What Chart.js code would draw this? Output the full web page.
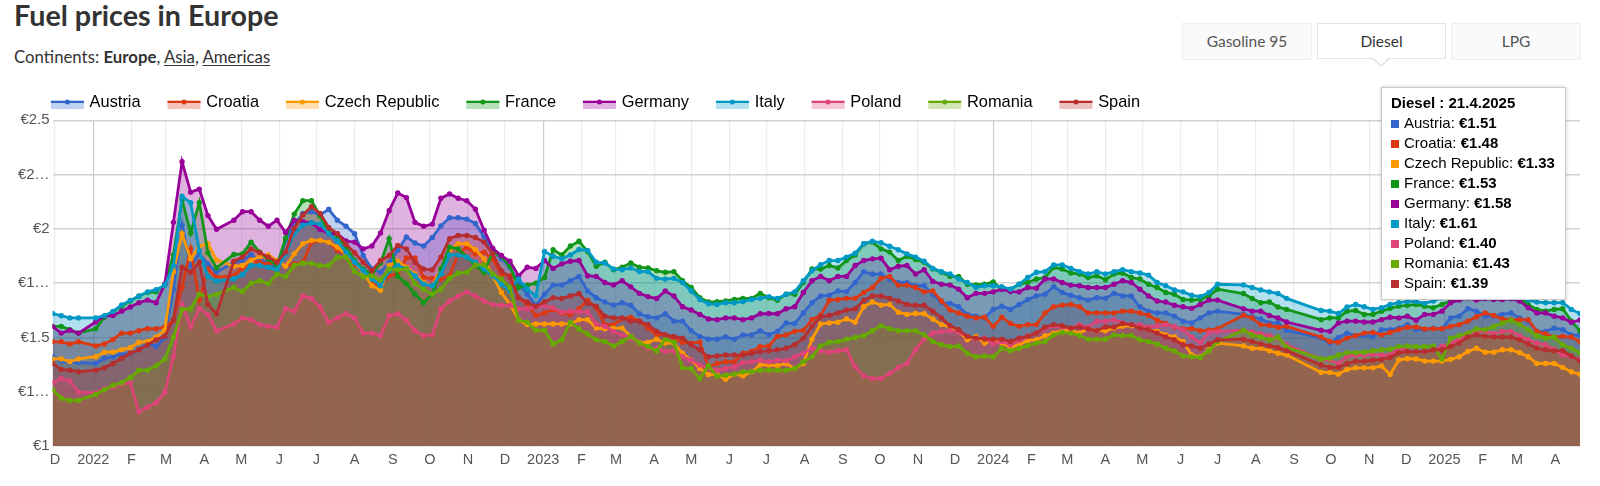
<!DOCTYPE html>
<html><head><meta charset="utf-8">
<script src="https://cdn.jsdelivr.net/npm/chart.js@4"></script>
<style>
html,body{margin:0;padding:0;background:#fff;width:1600px;height:486px;overflow:hidden}
body{position:relative;font-family:"Liberation Sans",Arial,sans-serif;color:#333}
canvas{position:absolute;left:0;top:0}
#title{position:absolute;left:14px;top:-2px;font:700 28.7px Lato;color:#333;white-space:nowrap}
#sub{position:absolute;left:14px;top:46px;font:400 16.8px Lato;color:#333;white-space:nowrap}
#sub u{text-underline-offset:2px}
.tab{position:absolute;top:23px;width:128px;height:35px;background:#fafafa;border:1px solid #eee;text-align:center;font:400 15.5px/35px Lato;color:#555}
.tab.on{background:#fff;border:1.5px solid #e4e4e4;color:#333;top:23px;height:34px;line-height:34px;width:127px}
#tri{position:absolute;left:1371px;top:58px;width:0;height:0;border-left:10px solid transparent;border-right:10px solid transparent;border-top:9px solid #e4e4e4}
#tri:after{content:"";position:absolute;left:-8px;top:-10px;border-left:8px solid transparent;border-right:8px solid transparent;border-top:8px solid #fff}
#tip{position:absolute;left:1381px;top:87px;width:185px;height:213px;box-sizing:border-box;background:#fff;border:1px solid #ccc;box-shadow:0 0 4px rgba(0,0,0,.2);font:15px/20px "Liberation Sans",Arial,sans-serif;color:#000;padding:5px 0 0 9px;white-space:nowrap}
#tip .sw{display:inline-block;width:8px;height:8px;margin-right:5px;vertical-align:0}
</style></head><body>
<div id="title">Fuel prices in Europe</div>
<div id="sub">Continents: <b>Europe</b>, <u>Asia</u>, <u>Americas</u></div>
<div class="tab" style="left:1182px">Gasoline 95</div>
<div class="tab on" style="left:1317px">Diesel</div>
<div id="tri"></div>
<div class="tab" style="left:1451px">LPG</div>
<canvas id="c" width="1600" height="486"></canvas>
<div id="tip"></div>
<script>
const seriesNames=['Austria','Croatia','Czech Republic','France','Germany','Italy','Poland','Romania','Spain'];
const seriesColors=['#3366cc','#dc3912','#ff9900','#109618','#990099','#0099c6','#dd4477','#66aa00','#b82e2e'];
const tickLabels=['D','2022','F','M','A','M','J','J','A','S','O','N','D','2023','F','M','A','M','J','J','A','S','O','N','D','2024','F','M','A','M','J','J','A','S','O','N','D','2025','F','M','A'];
const yTickLabels=['€1','€1…','€1.5','€1…','€2','€2…','€2.5'];
const tipTitle='Diesel : 21.4.2025';

const austria=[1.411,1.391,1.384,1.384,null,1.38,1.404,1.411,1.424,1.424,1.443,1.474,1.458,1.5,1.722,2.017,1.831,1.885,1.839,1.8,null,1.846,
1.854,1.882,1.854,1.846,1.815,1.947,2.02,2.071,2.079,2.064,2.09,2.04,2.012,1.978,1.877,1.815,1.8,1.846,1.901,1.963,1.935,1.921,
1.96,2.014,2.051,2.051,2.045,2.025,1.963,1.901,1.862,1.823,1.753,1.699,1.648,1.699,1.741,1.741,1.761,1.781,1.714,1.683,1.663,1.648,
1.66,1.648,1.609,1.595,1.59,1.609,1.575,1.575,1.531,1.505,1.492,1.492,1.502,1.492,1.512,1.512,1.531,1.512,1.528,1.567,1.564,1.613,
1.66,1.691,1.694,1.714,1.711,1.753,1.803,1.792,1.792,1.769,1.753,1.753,1.738,1.738,1.699,1.66,1.657,1.641,1.606,1.598,1.59,1.629,
1.644,1.629,1.652,1.675,1.691,1.699,1.734,1.707,1.694,1.683,1.672,1.683,1.68,1.703,1.691,1.691,1.641,1.621,1.613,1.613,1.598,1.575,
1.567,1.59,1.613,1.621,null,null,1.606,1.595,1.585,1.567,1.567,1.533,null,null,null,1.497,1.474,1.5,1.52,1.508,1.509,1.502,
1.536,1.536,1.543,1.559,1.536,1.536,1.543,1.539,1.59,1.598,1.632,1.621,1.598,1.598,1.606,1.613,1.59,1.575,1.528,1.528,1.543,1.536,1.512,1.51];
const croatia=[1.48,1.48,1.47,1.48,null,1.461,1.47,1.491,1.52,1.52,1.531,1.54,1.54,1.548,1.579,1.73,1.908,1.672,1.815,1.776,null,1.784,
1.823,1.857,1.846,1.839,1.846,1.831,1.839,1.846,1.939,1.947,1.939,1.901,1.885,1.839,1.807,1.753,1.738,1.784,1.792,1.866,1.866,1.776,
1.772,1.769,1.784,1.885,1.916,1.885,1.893,1.862,1.792,1.784,1.683,1.652,1.601,1.613,1.629,1.613,1.606,1.632,1.672,1.637,1.559,1.559,
1.587,1.593,1.575,1.543,1.512,1.512,1.497,1.477,1.474,1.478,1.365,1.38,1.388,1.388,1.427,1.435,1.458,1.461,1.505,1.512,1.528,1.533,
1.582,1.602,1.671,1.675,1.68,1.68,1.707,1.73,1.772,1.781,1.741,1.741,1.73,1.71,1.714,1.668,1.626,1.613,1.598,1.59,1.593,1.551,
1.593,1.564,1.551,1.559,1.559,1.613,1.641,1.649,1.652,1.641,1.613,1.613,1.613,1.613,1.621,1.621,1.613,1.602,1.579,1.564,1.548,1.54,
1.54,1.531,1.533,1.54,null,null,1.602,1.59,1.559,1.556,1.547,1.551,null,null,null,1.502,1.481,1.478,1.497,1.508,1.52,1.523,
1.512,1.523,1.536,1.547,1.548,1.539,1.54,1.54,1.551,1.559,1.575,1.595,1.613,1.601,1.585,1.582,1.582,1.582,1.528,1.517,1.502,1.505,1.502,1.48];
const czech=[1.401,1.401,1.388,1.401,null,1.411,1.432,1.432,1.443,1.453,1.478,1.481,1.502,1.533,1.803,1.978,1.862,1.919,1.932,1.857,null,1.828,
1.831,1.854,1.873,1.88,1.854,1.828,1.885,1.932,1.947,1.947,1.938,1.916,1.885,1.846,1.8,1.738,1.717,1.831,1.851,1.823,1.792,1.753,
1.738,1.815,1.901,1.932,1.932,1.905,1.862,1.784,1.707,1.652,1.582,1.559,1.562,1.562,1.562,1.562,1.562,1.582,1.582,1.543,1.54,1.543,
1.543,1.505,1.477,1.477,1.492,1.474,1.474,1.427,1.396,1.357,1.329,1.329,1.307,1.331,1.323,1.342,1.373,1.373,1.37,1.38,1.357,1.38,
1.492,1.562,1.567,1.57,1.585,1.57,1.641,1.663,1.649,1.652,1.616,1.606,1.61,1.609,1.585,1.559,1.548,1.528,1.489,1.505,1.474,1.489,
1.474,1.455,1.466,1.486,1.489,1.508,1.52,1.531,1.531,1.52,1.539,1.531,1.531,1.543,1.551,1.554,1.548,1.536,1.528,1.512,1.502,1.481,
1.419,1.411,1.443,1.474,null,null,1.461,1.45,1.45,1.439,1.427,1.419,null,null,null,1.339,1.339,1.331,1.352,1.36,1.36,1.36,
1.368,1.329,1.396,1.402,1.401,1.391,1.391,1.391,1.399,1.411,1.435,1.45,1.432,1.432,1.443,1.443,1.43,1.411,1.38,1.38,1.38,1.362,1.342,1.33];
const france=[1.551,1.551,1.536,1.52,null,1.54,1.593,1.618,1.644,1.668,1.691,1.707,1.71,1.745,1.88,2.134,1.981,2.121,1.89,1.82,null,1.882,
1.885,1.939,1.893,1.862,1.831,1.958,2.068,2.13,2.13,2.059,1.986,1.97,1.916,1.854,1.815,1.792,1.842,1.955,1.781,1.748,1.699,1.66,
1.699,1.815,1.916,1.908,1.87,1.831,1.8,1.893,1.874,1.828,1.73,1.741,1.75,1.776,1.904,1.88,1.921,1.943,1.896,1.828,1.846,1.812,
1.823,1.843,1.823,1.82,1.807,1.8,1.803,1.761,1.73,1.683,1.663,1.665,1.668,1.675,1.68,1.68,1.703,1.683,1.671,1.699,1.699,1.753,
1.815,1.815,1.831,1.82,1.854,1.88,1.932,1.939,1.908,1.893,1.854,1.874,1.859,1.846,1.815,1.8,1.781,1.781,1.745,1.742,1.745,1.756,
1.722,1.722,1.745,1.753,1.769,1.776,1.823,1.815,1.797,1.792,1.776,1.784,1.766,1.792,1.797,1.776,1.769,1.745,1.73,1.707,1.699,1.675,
1.672,1.675,1.691,1.722,null,null,1.702,1.679,1.66,1.663,1.64,1.629,null,null,null,1.582,1.59,1.59,1.621,1.624,1.606,1.606,
1.621,1.634,1.644,1.648,1.652,1.644,1.637,1.652,1.668,1.691,1.694,1.691,1.683,1.688,1.691,1.694,1.683,1.652,1.629,1.621,1.629,1.632,1.575,1.53];
const germany=[1.551,1.52,1.533,1.52,null,1.571,1.598,1.601,1.621,1.64,1.66,1.672,1.66,1.745,2.03,2.309,2.169,2.183,2.061,1.998,null,2.04,
2.079,2.079,2.04,2.012,2.04,1.983,2.04,2.033,2.028,1.997,1.978,1.978,1.944,1.939,1.908,1.921,1.981,2.084,2.165,2.144,2.03,2.012,
2.022,2.141,2.161,2.141,2.13,2.09,1.994,1.911,1.877,1.851,1.784,1.823,1.818,1.854,1.818,1.839,1.851,1.854,1.784,1.781,1.753,1.742,
1.761,1.733,1.703,1.688,1.679,1.714,1.691,1.641,1.626,1.606,1.585,1.582,1.59,1.59,1.582,1.59,1.609,1.61,1.609,1.632,1.641,1.707,
1.761,1.781,1.761,1.781,1.781,1.831,1.854,1.862,1.865,1.812,1.828,1.831,1.792,1.812,1.758,1.745,1.741,1.722,1.683,1.703,1.703,1.71,
1.722,1.711,1.71,1.73,1.727,1.769,1.769,1.753,1.741,1.738,1.73,1.73,1.73,1.745,1.761,1.753,1.722,1.691,1.668,1.663,1.648,1.641,
1.634,1.652,1.672,1.672,null,null,1.632,1.621,1.621,1.601,1.59,1.571,null,null,null,1.533,1.528,1.567,1.575,1.575,1.571,1.571,
1.582,1.593,1.59,1.598,1.579,1.606,1.606,1.621,1.66,1.672,1.683,1.672,1.679,1.675,1.675,1.679,1.668,1.637,1.613,1.613,1.598,1.59,1.57,1.58];
const italy=[1.61,1.60,1.59,1.59,null,1.59,1.60,1.62,1.65,1.67,1.69,1.71,1.72,1.74,1.83,2.15,2.12,1.90,1.78,1.76,null,1.77,
1.789,1.831,1.831,1.823,1.812,1.885,1.978,2.017,2.028,2.022,1.978,1.944,1.893,1.846,1.807,1.769,1.738,1.807,1.831,1.815,1.784,1.745,
1.738,1.792,1.88,1.88,1.87,1.846,1.815,1.784,1.745,1.714,1.769,1.722,1.691,1.896,1.874,1.862,1.88,1.905,1.901,1.846,1.843,1.815,
1.812,1.82,1.804,1.803,1.772,1.769,1.772,1.753,1.714,1.675,1.655,1.652,1.66,1.66,1.665,1.675,1.68,1.688,1.679,1.699,1.71,1.761,
1.807,1.835,1.854,1.854,1.87,1.888,1.932,1.943,1.936,1.92,1.904,1.885,1.87,1.851,1.818,1.803,1.792,1.769,1.753,1.73,1.738,1.738,
1.734,1.722,1.745,1.776,1.8,1.803,1.834,1.834,1.818,1.803,1.792,1.803,1.792,1.803,1.812,1.803,1.797,1.787,1.753,1.738,1.719,1.71,
1.694,1.688,1.707,1.745,null,null,1.742,1.73,1.719,1.71,1.702,1.68,null,null,null,1.624,1.621,1.61,1.64,1.652,1.641,1.629,
1.637,1.652,1.66,1.665,1.665,1.657,1.668,1.683,1.694,1.699,1.714,1.707,1.699,1.699,1.703,1.707,1.691,1.672,1.663,1.66,1.66,1.66,1.629,1.61];
const poland=[1.292,1.311,1.3,1.248,null,1.245,1.264,1.272,1.287,1.292,1.158,1.179,1.199,1.248,1.411,1.652,1.548,1.634,1.606,1.531,null,1.562,
1.59,1.582,1.559,1.551,1.548,1.632,1.621,1.691,1.68,1.64,1.57,1.59,1.61,1.59,1.52,1.52,1.509,1.601,1.609,1.579,1.531,1.509,
1.512,1.632,1.668,1.691,1.71,1.691,1.668,1.652,1.648,1.648,1.632,1.632,1.64,1.648,1.637,1.616,1.621,1.618,1.618,1.562,1.551,1.528,
1.512,1.497,1.474,1.45,1.45,1.435,1.439,1.411,1.396,1.373,1.36,1.349,1.357,1.365,1.384,1.388,1.396,1.388,1.396,1.393,1.411,1.427,
1.45,1.438,1.432,1.439,1.443,1.365,1.323,1.311,1.311,1.334,1.362,1.38,1.443,1.494,1.52,1.528,1.531,1.525,1.505,1.494,1.497,1.47,
1.481,1.466,1.486,1.508,1.52,1.543,1.554,1.548,1.543,1.559,1.547,1.575,1.575,1.582,1.567,1.559,1.559,1.548,1.554,1.559,1.551,1.536,
1.502,1.477,1.523,1.528,null,null,1.533,1.525,1.517,1.508,1.497,1.466,null,null,null,1.401,1.396,1.38,1.412,1.419,1.419,1.422,
1.419,1.419,1.45,1.439,1.435,1.435,1.443,1.458,1.474,1.489,1.52,1.528,1.528,1.517,1.528,1.528,1.508,1.489,1.474,1.466,1.446,1.419,1.411,1.40];
const romania=[1.261,1.22,1.21,1.21,null,1.238,1.259,1.28,1.292,1.314,1.349,1.349,1.37,1.401,1.501,1.629,1.632,1.699,1.688,1.699,null,1.73,
1.711,1.75,1.761,1.748,1.792,1.781,1.831,1.842,1.842,1.831,1.831,1.87,1.87,1.804,1.78,1.784,1.764,1.815,1.812,1.815,1.748,1.722,
1.699,1.722,1.773,1.797,1.8,1.834,1.834,1.792,1.769,1.73,1.579,1.57,1.533,1.533,1.47,1.489,1.57,1.539,1.516,1.489,1.481,1.461,
1.481,1.505,1.474,1.458,1.438,1.492,1.478,1.36,1.357,1.311,1.37,1.321,1.326,1.331,1.342,1.342,1.349,1.349,1.349,1.349,1.357,1.388,
1.411,1.461,1.478,1.481,1.492,1.5,1.509,1.531,1.554,1.54,1.531,1.531,1.531,1.512,1.481,1.466,1.458,1.461,1.427,1.411,1.415,1.411,
1.45,1.439,1.45,1.463,1.474,1.481,1.512,1.523,1.52,1.509,1.492,1.492,1.492,1.512,1.509,1.509,1.489,1.481,1.47,1.45,1.438,1.415,
1.411,1.408,1.439,1.481,null,null,1.533,1.512,1.502,1.489,1.502,1.455,null,null,null,1.401,1.404,1.419,1.43,1.43,1.432,1.439,
1.443,1.446,1.458,1.461,1.458,1.458,1.461,1.401,1.497,1.508,1.52,1.539,1.536,1.551,1.567,1.579,1.559,1.536,1.508,1.497,1.502,1.466,1.45,1.43];
const spain=[1.38,1.352,1.349,1.342,null,1.349,1.36,1.38,1.404,1.427,1.443,1.466,1.489,1.505,1.582,1.823,1.8,1.846,1.652,1.609,null,1.851,
1.87,1.908,1.89,1.87,1.846,1.893,2.002,2.064,2.102,2.071,2.006,1.978,1.929,1.89,1.846,1.807,1.854,1.877,1.924,1.908,1.846,1.815,
1.812,1.87,1.955,1.97,1.97,1.96,1.939,1.885,1.807,1.776,1.683,1.663,1.644,1.663,1.683,1.679,1.691,1.702,1.657,1.644,1.598,1.59,
1.59,1.575,1.575,1.559,1.528,1.512,1.505,1.497,1.466,1.443,1.411,1.415,1.419,1.419,1.419,1.427,1.435,1.439,1.443,1.45,1.466,1.497,
1.551,1.595,1.602,1.613,1.626,1.632,1.671,1.691,1.691,1.68,1.668,1.652,1.648,1.648,1.621,1.59,1.554,1.536,1.505,1.497,1.492,1.492,
1.492,1.481,1.497,1.505,1.52,1.548,1.559,1.554,1.543,1.548,1.539,1.531,1.548,1.548,1.564,1.559,1.543,1.536,1.52,1.502,1.489,1.466,
1.461,1.45,1.47,1.489,null,null,1.492,1.481,1.47,1.461,1.453,1.439,null,null,null,1.373,1.362,1.362,1.38,1.391,1.391,1.396,
1.399,1.408,1.43,1.435,1.435,1.435,1.443,1.443,1.458,1.474,1.502,1.512,1.505,1.502,1.502,1.502,1.489,1.47,1.45,1.443,1.439,1.439,1.415,1.39];

const seriesValues=[austria,croatia,czech,france,germany,italy,poland,romania,spain];
seriesValues.forEach((a,i)=>{if(a.length!==178)throw new Error(seriesNames[i]+' length '+a.length)});

const DAY=86400000, startDay=Date.UTC(2021,10,29)/DAY;
const monthTicks=tickLabels.map((_,i)=>Date.UTC(2021,11+i,1)/DAY-startDay);
const rgba=(h,a)=>{const n=parseInt(h.slice(1),16);return `rgba(${n>>16},${(n>>8)&255},${n&255},${a})`};

const datasets=seriesNames.map((name,i)=>({
  label:name,
  data:seriesValues[i].map((y,k)=>({x:k*7,y})),
  borderColor:seriesColors[i],
  backgroundColor:rgba(seriesColors[i],.3),
  pointBackgroundColor:seriesColors[i],
  pointBorderColor:seriesColors[i],
  pointRadius:2.7,pointBorderWidth:0,borderWidth:2.8,
  fill:'start',tension:0,spanGaps:true,order:8-i
}));

const legendMark={id:'legendMark',
 afterLayout(ch){ch.legend.left=24;},
 afterDraw(ch){
  const g=ch.ctx;
  ch.legend.legendHitBoxes.forEach((b,i)=>{
    const c=seriesColors[i],x=b.left,top=100,w=33;
    g.save();
    g.fillStyle=rgba(c,.3);g.fillRect(x,top,w,9);
    g.strokeStyle=c;g.lineWidth=2;g.beginPath();g.moveTo(x,top+2);g.lineTo(x+w,top+2);g.stroke();
    g.fillStyle=c;g.beginPath();g.arc(x+w/2,top+2,2.5,0,7);g.fill();
    g.restore();
  });
}};

new Chart(document.getElementById('c'),{
  type:'line',
  data:{datasets},
  plugins:[legendMark],
  options:{
    responsive:false,animation:false,devicePixelRatio:1,
    layout:{padding:{left:0,right:20,top:67,bottom:0}},
    interaction:{mode:null},
    plugins:{
      filler:{drawTime:'beforeDatasetsDraw'},
      tooltip:{enabled:false},
      legend:{position:'top',align:'start',maxHeight:64.5,
        labels:{boxWidth:30.5,padding:26.9,color:'#444',font:{family:'"Liberation Sans"',size:16.4},
          generateLabels:ch=>ch.data.datasets.map((d,i)=>({text:d.label,datasetIndex:i,fillStyle:'rgba(0,0,0,0)',strokeStyle:'rgba(0,0,0,0)',lineWidth:0}))}}
    },
    scales:{
      x:{type:'linear',min:0,max:1239,
        afterBuildTicks:s=>{s.ticks=monthTicks.map(value=>({value}))},
        afterFit:s=>{s.height=40},
        grid:{drawTicks:false,lineWidth:1.2,color:c=>/^20/.test(tickLabels[c.index]||'')?'#cccccc':'#ececec'},
        border:{display:false},
        ticks:{autoSkip:false,maxRotation:0,padding:5,color:'#555',font:{family:'"Liberation Sans"',size:14.5},
          callback:(v,i)=>tickLabels[i]}
      },
      y:{min:1,max:2.5,
        afterBuildTicks:s=>{s.ticks=yTickLabels.map((_,i)=>({value:1+i*.25}))},
        afterFit:s=>{s.width=52.6},
        grid:{drawTicks:false,lineWidth:1.4,color:'#d2d2d2'},
        border:{display:false},
        ticks:{padding:3,color:'#555',font:{family:'"Liberation Sans"',size:15},
          callback:(v,i)=>yTickLabels[i]}
      }
    }
  }
});

const tip=document.getElementById('tip');
tip.innerHTML='<b>'+tipTitle+'</b><br>'+seriesNames.map((n,i)=>{
  const a=seriesValues[i];
  return `<span class="sw" style="background:${seriesColors[i]}"></span>${n}: <b>€${a[a.length-1].toFixed(2)}</b>`;
}).join('<br>');
</script>
</body></html>
